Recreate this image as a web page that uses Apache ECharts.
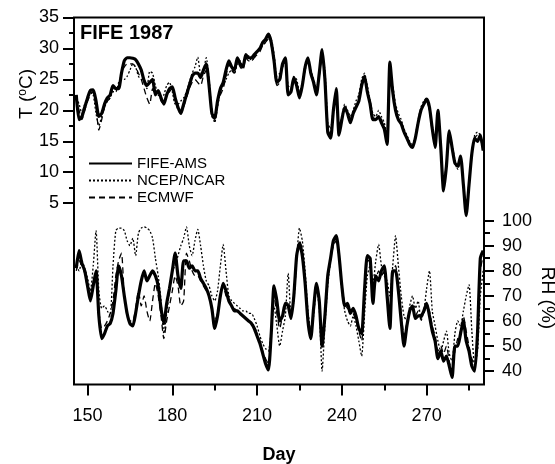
<!DOCTYPE html>
<html>
<head>
<meta charset="utf-8">
<script src="https://cdn.jsdelivr.net/npm/echarts@6/dist/echarts.min.js"></script>
<style>
  html, body { margin: 0; padding: 0; background: #fff; }
  #chart { width: 555px; height: 464px; }
</style>
</head>
<body>
<div id="chart"></div>
<script>
// 第一天 (day of year), 每天一个值
var firstDay = 146;

// 气温 T (°C)
var tFife = [22.5,18.5,19,20.5,22,23.2,23.3,21.5,19,19.5,21,22,22.5,24,23.5,23.5,26,28,28.5,28.5,
  28.4,28.2,27.5,26.5,24.8,24,24.5,25,22.5,23.2,22,21,22.5,23.5,23.8,22,20.5,19.5,21,22.5,
  24,25.5,26,26,25.3,26.5,27.5,24,19.5,18.8,21.5,23.5,24.5,26.5,28,27,26.5,28.5,27.5,27,
  29,28.5,28.5,29,29.5,30,31,31.5,32.3,31,28,24.5,25,27.5,28.5,22.5,23,25.3,24,22,
  24,27,28.5,26,24.5,22.5,26,29.8,25,16.5,15.5,20,23.5,16,18.5,20.5,19.5,18,19.5,20.5,
  21.5,24,25.5,23,21,18.5,18.5,19,18,17,14.5,27.8,23,20,18.5,17.8,16.5,15.5,14.5,14,
  15.5,18,20,21,21.8,20.5,17,14,20,14,7,11,16.7,14,11.5,11,12.6,8,3,8,
  13,15.5,15,16,13.5];
var tNcep = [22,21,19.5,21,22,23,22.5,19.5,17.5,19,20.5,21.5,22,23,23,24.5,25,25,25.5,26.5,
  27.5,27,25.5,25,25,23.5,26.3,26,24,22.5,22,22.5,24,24.5,23,21,21,21.5,22,23,
  24.5,26,27,28.6,26,26.5,28.5,25,20,18,20.5,23,24,25,26,26.5,26,27.5,28,27,
  28.5,28.8,28,28.5,29.5,30,30.5,31,31.8,31.5,29,25.5,26,27,28,24,23.5,25.5,25,23,
  24.5,27.5,28,26.5,25,23.5,26,28.5,26.5,18,17,20.5,23,17.5,19,21,20,19,20,21.5,
  22.5,25,26,24,21.5,19.5,19,20,19,18,16,25,24,21,19.5,18.5,17,16,15,14.5,
  16,18.5,20.5,21.5,22,20,17.5,15,19,14.5,8,11.5,16,14.5,12,10.5,12,8.5,3.5,8.5,
  13.5,16,16.5,16,14];
var tEcmwf = [22,20,18.5,20,21.5,22.5,23,20.5,16.8,18.5,20.5,21.5,22,23.5,23.5,24,26,27,27.5,27.5,
  27.5,27,26,25,23.5,22,21,23.5,22.5,23,21.5,21,22.5,23,23.5,22,20,19.5,20.5,22,
  23.5,24.5,25,24.5,24,25.5,26.5,23.5,19,18.5,21,22.5,23.5,25.5,27.5,26.5,26,28,27,26.5,
  28.5,28,28,28.5,29,29.5,30.5,31,31.5,30.5,27.5,24,24.5,27,28,22.5,23,25,24,22.5,
  24,26.5,28,26,24.5,23,25.5,29,25.5,17,16,19.5,23,16.5,18.5,20.5,19.5,18.5,19.5,20.5,
  21.5,24.5,25,23,21,19,18.5,19,18.5,17,15,26.5,23,20.5,18.5,18,16.5,15.5,14.5,14,
  15.5,18,20,21,21.5,20,16.5,14.5,19,14,7.5,11,16,14,11.5,10.5,12,8,3,8,
  13,15.5,16,15.5,13.5];

// 相对湿度 RH (%)
var rhFife = [81,88,83,80,74,68,74,80,62,53,55,58,59,63,72,82,78,70,63,59,
  58,63,70,76,80,76,78,80,78,74,65,59,67,73,80,87,78,73,84,84,
  81,82,80,80,77,75,73,70,65,57,62,70,75,72,68,66,64,64,63,62,
  61,60,59,57,54,51,47,43,40.5,55,74,68,60,62,67,66,61,70,86,91,
  86,75,60,53,65,75,68,50,62,78,85,92,94,86,74,66,67,63,65,62,
  57,55,72,86,85,67,78,76,80,82,70,57,80,80,72,60,50,58,64,66,
  61,62,62,64,67,62,56,52,45,48,44,46,42,37.5,50,50,55,60,52,48,
  42,40,55,85,88];
var rhNcep = [82,80,84,81,77,72,82,96,72,65,66,64,62,82,96,97,97,96,92,90,
  93,86,95,97,97.5,97,96,93,85,78,68,55,63,72,80,82,86,90,93,97.5,
  90,86,92,96.5,90,82,76,74,70,68,72,82,90.5,80,70,68,67,66,65,64,
  64,63,63,61,58,54,51,49,48,56,66,58,50,56,62,79,63,68,85,97,
  92,80,64,56,62,73,65,40,58,74,84,91,93,85,72,64,60,58,62,58,
  52,46,62,78,82,75,84,90.5,82,78,76,70,82,94,82,70,62,60,66,70,
  65,68,60,64,73,80,64,58,52,48,52,56,47,44,55,60,58,64,70,74.5,
  56,42,48,70,80];
var rhEcmwf = [80,84,82,79,73,69,75,78,64,57,58,60,63,68,78,84,87,70,62,60,
  60,65,72,66,70,64,60,68,75,70,62,53,60,66,72,78,74,66,68,87,
  84,80,78,78,76,74,72,70,64,60,63,71,74,70,68,66,65,64,63,62,
  61,60,59,58,55,52,48,45,43,54,70,63,57,62,66,68,62,68,84,92,
  88,76,62,54,64,74,68,52,60,76,84,90,92,86,74,67,65,64,63,60,
  56,52,68,84,84,70,76,80,78,80,72,60,78,82,74,63,54,59,63,65,
  62,64,61,63,66,64,58,54,48,50,47,50,44,40,48,53,56,62,56,50,
  45,42,52,80,86];

// 刻度
var dayTicks = [150, 180, 210, 240, 270];
var dayMinorTicks = [165, 195, 225, 255, 285];
var tTicks = [5, 10, 15, 20, 25, 30, 35];
var tMinorTicks = [7.5, 12.5, 17.5, 22.5, 27.5, 32.5];
var rhTicks = [40, 50, 60, 70, 80, 90, 100];
var rhMinorTicks = [45, 55, 65, 75, 85, 95];

var names = ['FIFE-AMS', 'NCEP/NCAR', 'ECMWF'];

function toPairs(arr) {
    var out = [];
    for (var i = 0; i < arr.length; i++) {
        out.push([firstDay + i, arr[i]]);
    }
    return out;
}

var FONT = 'Liberation Sans, Arial, Helvetica, sans-serif';
var labelStyle = { color: '#000', fontSize: 18, fontFamily: FONT };
var tickLine = { color: '#000', width: 2 };

function lineSeries(name, data, yIdx, kind) {
    var ls = { color: '#000', width: 1.3 };
    if (kind === 0) { ls.width = 3.2; ls.type = 'solid'; }
    if (kind === 1) { ls.type = [2, 2]; }
    if (kind === 2) { ls.type = [6, 4]; }
    return {
        name: name,
        type: 'line',
        xAxisIndex: 0,
        yAxisIndex: yIdx,
        data: toPairs(data),
        symbol: 'none',
        showSymbol: false,
        smooth: 0.2,
        lineStyle: ls,
        itemStyle: { color: '#000' },
        z: kind === 0 ? 5 : 3,
        silent: true,
        animation: false
    };
}

// 坐标轴 (只画刻度, 外框由 grid 画)
function axisOf(kind, pos, min, max, ticks, len, labels, margin) {
    var ax = {
        type: 'value', position: pos, min: min, max: max,
        axisLine: { show: false, onZero: false },
        splitLine: { show: false },
        axisTick: { show: true, customValues: ticks, length: len, lineStyle: tickLine },
        axisLabel: labels ? { customValues: ticks, margin: margin, textStyle: labelStyle } : { show: false }
    };
    return ax;
}

var myChart = echarts.init(document.getElementById('chart'));
var option = {
    animation: false,
    backgroundColor: '#fff',
    grid: {
        left: 74, right: 71, top: 17.5, bottom: 79.5,
        show: true, borderColor: '#000', borderWidth: 2, backgroundColor: 'transparent'
    },
    legend: {
        data: names,
        orient: 'vertical',
        left: 88, top: 156,
        padding: 0,
        itemWidth: 43, itemHeight: 12, itemGap: 2,
        selectedMode: false,
        itemStyle: { opacity: 0 },
        textStyle: { color: '#000', fontSize: 15, fontFamily: FONT }
    },
    xAxis: [
        axisOf('x', 'bottom', 145.2, 290.3, dayTicks, 11, true, 23),
        axisOf('x', 'bottom', 145.2, 290.3, dayMinorTicks, 6, false)
    ],
    yAxis: [
        axisOf('y', 'left', -24.3, 35, tTicks, 11, true, 15),
        axisOf('y', 'left', -24.3, 35, tMinorTicks, 5, false),
        axisOf('y', 'right', 34.7, 180.9, rhTicks, 10, true, 18),
        axisOf('y', 'right', 34.7, 180.9, rhMinorTicks, 6, false)
    ],
    graphic: [{
        type: 'text', left: 80, top: 23,
        style: { text: 'FIFE 1987', fill: '#000', fontSize: 20, fontWeight: 'bold', fontFamily: FONT }
    }, {
        type: 'text', x: 27, y: 94, rotation: Math.PI / 2,
        style: {
            text: '{a|T (}{b|o}{a|C)}',
            align: 'center', verticalAlign: 'middle',
            rich: {
                a: { fill: '#000', fontSize: 19, fontFamily: FONT },
                b: { fill: '#000', fontSize: 12, fontFamily: FONT, verticalAlign: 'top', padding: [0, 0, 8, 0] }
            }
        }
    }, {
        type: 'text', x: 547, y: 298, rotation: -Math.PI / 2,
        style: { text: 'RH (%)', fill: '#000', fontSize: 19, fontFamily: FONT,
            align: 'center', verticalAlign: 'middle' }
    }, {
        type: 'text', x: 279, y: 455,
        style: { text: 'Day', fill: '#000', fontSize: 18, fontWeight: 'bold', fontFamily: FONT,
            align: 'center', verticalAlign: 'middle' }
    }],
    series: [
        lineSeries(names[1], tNcep, 0, 1),
        lineSeries(names[2], tEcmwf, 0, 2),
        lineSeries(names[0], tFife, 0, 0),
        lineSeries(names[1], rhNcep, 2, 1),
        lineSeries(names[2], rhEcmwf, 2, 2),
        lineSeries(names[0], rhFife, 2, 0)
    ]
};
myChart.setOption(option);
</script>
</body>
</html>
